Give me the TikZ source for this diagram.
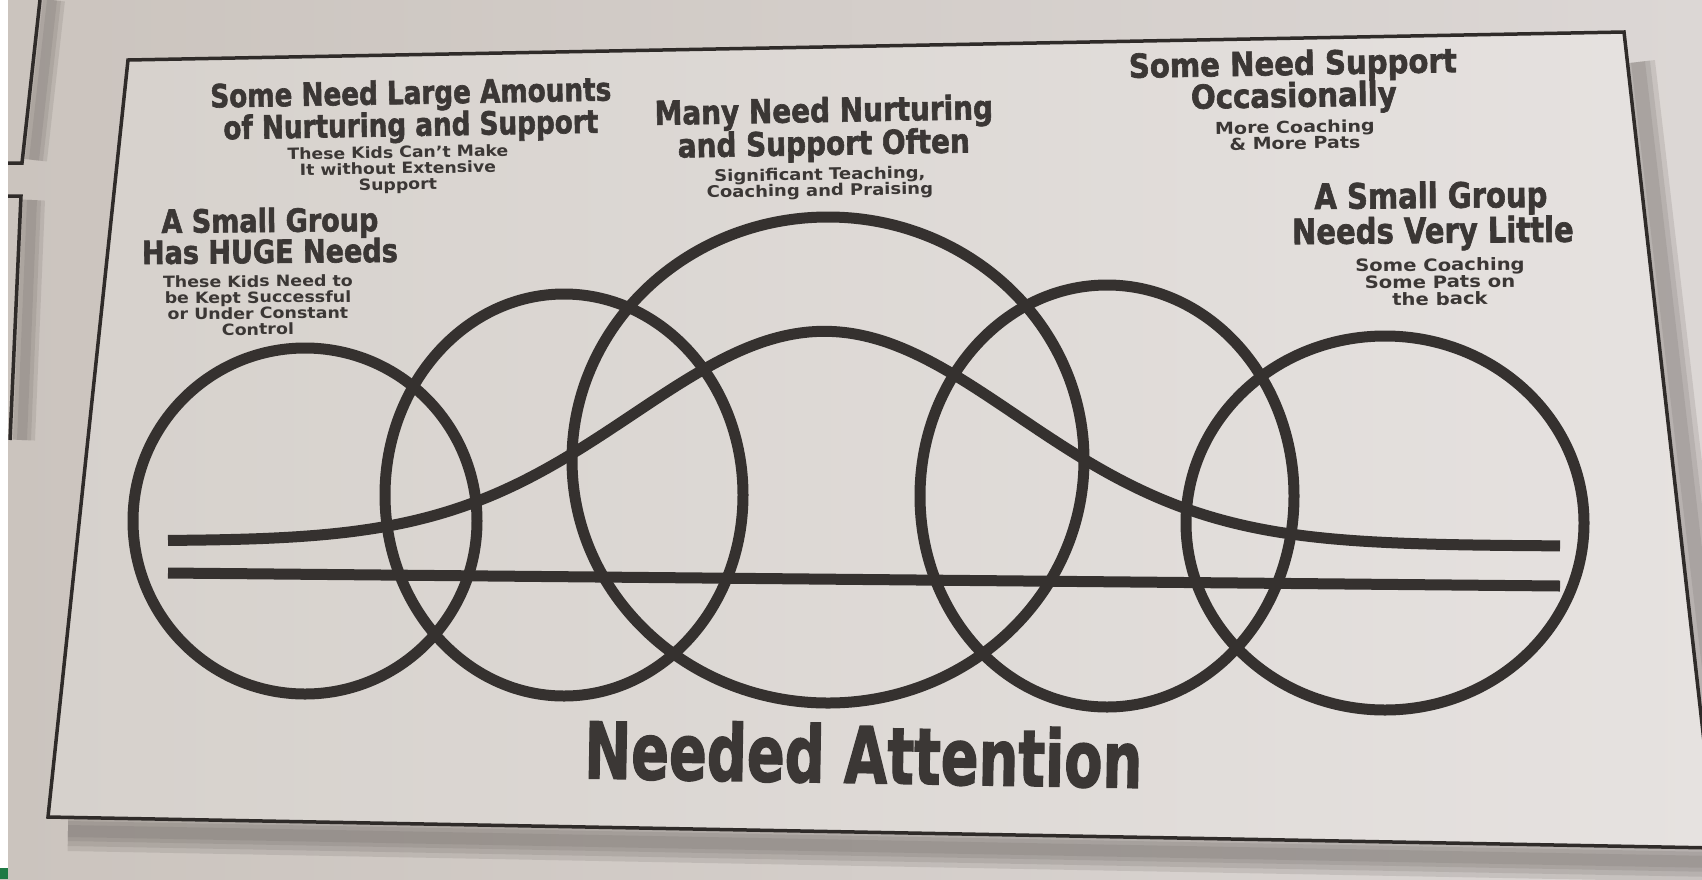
\documentclass[tikz,border=0pt]{standalone}
\usepackage{fontspec}
\setmainfont{DejaVu Sans}
\newfontfamily\hdfont{DejaVu Sans}[BoldFeatures={FakeBold=2}]
\usepackage{graphicx}
\usetikzlibrary{calc}
\definecolor{inkc}{HTML}{35312F}
\definecolor{txtc}{HTML}{3B3735}
\definecolor{framec}{HTML}{2F2B29}
\definecolor{outl}{HTML}{CBC4BE}
\definecolor{outr}{HTML}{DCD7D5}
\definecolor{inl}{HTML}{D6D1CC}
\definecolor{inr}{HTML}{E6E2E0}
\definecolor{shadowc}{HTML}{6E6864}
\definecolor{pagegreen}{HTML}{1E7A45}
\newcommand\hsq[2]{\scalebox{#1}[1]{#2}}
\begin{document}
\begin{tikzpicture}[x=1pt,y=-1pt,
  inkline/.style={draw=inkc,line width=11pt},
  headtxt/.style={anchor=base,inner sep=0pt,text=txtc,font=\hdfont\bfseries\fontsize{#1}{#1}\selectfont},
  subtxt/.style={anchor=base,inner sep=0pt,text=txtc,font=\bfseries\fontsize{#1}{#1}\selectfont},
  edgeline/.style={draw=framec,line width=3.5pt,line join=miter},
  shadowline/.style={draw=shadowc,line width=#1,opacity=0.18}
]
\useasboundingbox (0,0) rectangle (1702,879);
% background (photo of a page)
\shade[left color=outl,right color=outr] (0,0) rectangle (1702,879);
\fill[white] (0,0) rectangle (8,879);
\fill[pagegreen] (0,868) rectangle (8,879);
% neighbouring boxes at the left edge
\foreach \w in {26,18,10} {\draw[shadowline=\w pt] (52,0) -- (34,160);}
\foreach \w in {26,18,10} {\draw[shadowline=\w pt] (32,200) -- (22,440);}
\coordinate (pa) at (40,0);
\coordinate (pb) at (22,163);
\coordinate (pc) at (8,163);
\draw[edgeline] (pa) -- (pb) -- (pc);
\coordinate (qa) at (8,196);
\coordinate (qb) at (21,196);
\coordinate (qc) at (10,440);
\draw[edgeline] (qa) -- (qb) -- (qc);
% frame corners
\coordinate (ftl) at (128,60);
\coordinate (ftr) at (1624,32);
\coordinate (fbr) at (1716,848);
\coordinate (fbl) at (48,817);
% shadow of the frame
\foreach \w in {40,30,20,12} {\draw[shadowline=\w pt] ($(fbl)+(20,14)$) -- ($(fbr)+(0,14)$);}
\foreach \w in {34,24,14} {\draw[shadowline=\w pt] ($(ftr)+(14,30)$) -- ($(fbr)+(14,0)$);}
% frame
\shade[left color=inl,right color=inr] (ftl) -- (ftr) -- (fbr) -- (fbl) -- cycle;
\draw[edgeline] (ftl) -- (ftr) -- (fbr) -- (fbl) -- cycle;
% five overlapping rings
\draw[inkline] (305,521) ellipse [x radius=172, y radius=173];
\draw[inkline] (564,495) ellipse [x radius=179, y radius=201];
\draw[inkline] (828,460) ellipse [x radius=256, y radius=243];
\draw[inkline] (1107,496) ellipse [x radius=187, y radius=211];
\draw[inkline] (1385,523) ellipse [x radius=199, y radius=187];
% base line and bell curve
\coordinate (bl) at (168,573);
\coordinate (br) at (1560,586);
\draw[inkline] (bl) -- (br);
\draw[inkline] plot[domain=168:1560,samples=140,smooth] (\x,{541+5*(\x-168)/1392-212*exp(-((\x-825)/271)^2)});
% group 1
\node[headtxt=32,rotate=1] (h1a) at (411,104) {\hsq{0.82}{Some Need Large Amounts}};
\node[headtxt=32,rotate=1] (h1b) at (411,136) {\hsq{0.82}{of Nurturing and Support}};
\node[subtxt=15.5,rotate=1] (s1a) at (398,158) {\hsq{1.115}{These Kids Can’t Make}};
\node[subtxt=15.5,rotate=1] (s1b) at (398,174) {\hsq{1.115}{It without Extensive}};
\node[subtxt=15.5,rotate=1] (s1c) at (398,190) {\hsq{1.115}{Support}};
% group 2
\node[headtxt=32,rotate=0.5] (h2a) at (270,232) {\hsq{0.845}{A Small Group}};
\node[headtxt=32,rotate=0.5] (h2b) at (270,263) {\hsq{0.845}{Has HUGE Needs}};
\node[subtxt=15.5,rotate=0.5] (s2a) at (258,287) {\hsq{1.125}{These Kids Need to}};
\node[subtxt=15.5,rotate=0.5] (s2b) at (258,303) {\hsq{1.125}{be Kept Successful}};
\node[subtxt=15.5,rotate=0.5] (s2c) at (258,319) {\hsq{1.125}{or Under Constant}};
\node[subtxt=15.5,rotate=0.5] (s2d) at (258,335) {\hsq{1.125}{Control}};
% group 3
\node[headtxt=33,rotate=1] (h3a) at (824,122) {\hsq{0.845}{Many Need Nurturing}};
\node[headtxt=33,rotate=1] (h3b) at (824,155) {\hsq{0.845}{and Support Often}};
\node[subtxt=16,rotate=1] (s3a) at (820,180) {\hsq{1.124}{Significant Teaching,}};
\node[subtxt=16,rotate=1] (s3b) at (820,196) {\hsq{1.124}{Coaching and Praising}};
% group 4
\node[headtxt=33,rotate=1] (h4a) at (1293,75) {\hsq{0.883}{Some Need Support}};
\node[headtxt=33,rotate=1] (h4b) at (1294,107) {\hsq{0.883}{Occasionally}};
\node[subtxt=16.5,rotate=1] (s4a) at (1295,133) {\hsq{1.155}{More Coaching}};
\node[subtxt=16.5,rotate=1] (s4b) at (1295,149) {\hsq{1.155}{\& More Pats}};
% group 5
\node[headtxt=35,rotate=0.5] (h5a) at (1431,208) {\hsq{0.83}{A Small Group}};
\node[headtxt=35,rotate=0.5] (h5b) at (1433,243) {\hsq{0.83}{Needs Very Little}};
\node[subtxt=17,rotate=0.5] (s5a) at (1440,271) {\hsq{1.153}{Some Coaching}};
\node[subtxt=17,rotate=0.5] (s5b) at (1440,288) {\hsq{1.153}{Some Pats on}};
\node[subtxt=17,rotate=0.5] (s5c) at (1440,305) {\hsq{1.153}{the back}};
% axis title
\node[headtxt=78,rotate=-1] (na) at (863,783) {\hsq{0.716}{Needed Attention}};
\end{tikzpicture}
\end{document}
